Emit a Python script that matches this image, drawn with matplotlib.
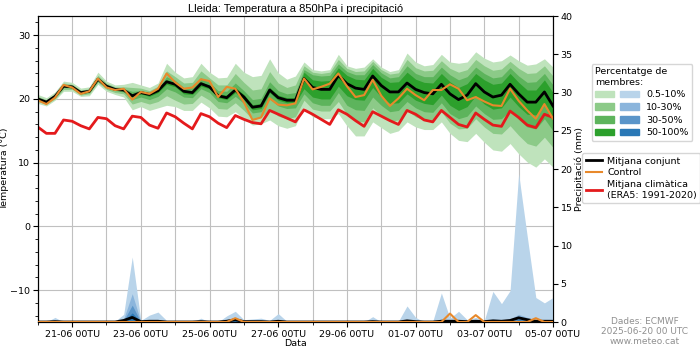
import numpy as np
import pandas as pd
import matplotlib
matplotlib.use("Agg")
import matplotlib.pyplot as plt
import matplotlib.dates as mdates
from matplotlib.patches import Patch
from matplotlib.lines import Line2D
from matplotlib.legend_handler import HandlerTuple

# 6-hourly steps from 2025-06-20 00 UTC to 2025-07-05 00 UTC
times = pd.date_range("2025-06-20 00:00", periods=61, freq="6h")

t_mean = [20.0, 19.5, 20.4, 22.0, 21.9, 21.0, 21.2, 23.1, 22.0, 21.5, 21.4, 20.5,
          21.0, 20.7, 21.3, 22.7, 22.3, 21.2, 21.0, 22.4, 21.9, 20.5, 20.2, 21.4,
          20.3, 18.7, 18.9, 21.4, 20.2, 19.8, 19.8, 23.2, 21.8, 21.5, 21.5, 23.7,
          22.4, 21.7, 21.5, 23.6, 22.1, 21.1, 21.1, 22.5, 21.5, 21.0, 20.8, 22.3,
          20.8, 19.9, 20.6, 22.4, 21.1, 20.3, 20.6, 22.3, 20.8, 19.5, 19.5, 21.1,
          18.9]
t_control = [19.8, 19.2, 20.2, 22.2, 21.8, 20.8, 21.2, 23.2, 21.8, 21.4, 21.6, 19.9,
             21.1, 20.8, 21.6, 24.0, 22.6, 21.6, 21.8, 23.1, 22.8, 20.3, 21.9, 21.6,
             19.5, 16.7, 17.1, 20.1, 19.1, 19.0, 19.3, 23.2, 21.5, 21.9, 22.4, 24.0,
             22.0, 20.3, 20.6, 23.0, 20.5, 18.9, 20.1, 21.6, 20.6, 19.8, 21.4, 21.4,
             22.3, 21.6, 19.8, 20.3, 19.6, 19.0, 18.9, 21.6, 19.7, 18.2, 16.9, 19.2,
             16.9]
t_clim = [15.6, 14.6, 14.6, 16.7, 16.5, 15.8, 15.3, 17.1, 16.9, 15.8, 15.3, 17.3,
          17.1, 15.9, 15.4, 17.8, 17.2, 16.2, 15.3, 17.7, 17.2, 16.2, 15.5, 17.4,
          16.8, 16.3, 16.1, 18.2, 17.6, 17.0, 16.4, 18.3, 17.6, 16.8, 16.0, 18.3,
          17.6, 16.6, 15.7, 18.0, 17.3, 16.6, 16.0, 18.2, 17.6, 16.7, 16.4, 18.2,
          17.1, 16.0, 15.6, 17.8, 16.8, 15.9, 15.7, 18.1, 17.1, 15.9, 15.5, 17.6,
          17.1]

# temperature percentile envelopes (outer -> inner)
t_hi1 = [20.7, 20.2, 21.1, 22.8, 22.6, 21.7, 21.9, 24.2, 22.8, 22.2, 22.3, 22.6,
         22.2, 21.8, 22.5, 25.6, 24.2, 23.3, 23.5, 25.6, 24.2, 23.3, 23.4, 25.6,
         24.2, 23.5, 23.7, 26.3, 24.1, 23.1, 23.6, 25.8, 24.6, 24.4, 24.6, 27.0,
         25.2, 24.8, 25.0, 26.3, 25.0, 24.3, 24.6, 27.2, 25.8, 25.2, 25.4, 27.0,
         25.8, 25.6, 25.8, 27.4, 26.4, 25.8, 26.0, 26.9, 26.0, 25.3, 25.5, 26.3,
         25.0]
t_lo1 = [19.3, 18.9, 19.8, 21.2, 21.2, 20.4, 20.5, 22.3, 21.2, 20.7, 20.3, 18.3,
         18.8, 18.2, 18.6, 19.0, 18.8, 18.2, 18.2, 19.5, 18.6, 17.3, 17.2, 18.0,
         16.9, 15.9, 16.1, 16.7, 15.8, 15.4, 15.8, 18.7, 17.2, 16.9, 16.9, 17.7,
         15.8, 14.2, 14.2, 16.4, 15.5, 14.6, 15.0, 16.4, 15.6, 15.2, 15.2, 16.4,
         14.6, 13.5, 13.3, 14.6, 13.2, 12.0, 11.8, 13.0, 11.4, 10.1, 9.3, 10.6,
         9.3]
t_hi2 = [20.4, 19.9, 20.8, 22.5, 22.3, 21.4, 21.6, 23.7, 22.5, 21.9, 21.9, 21.8,
         21.7, 21.3, 22.0, 24.4, 23.5, 22.5, 22.6, 24.4, 23.3, 22.2, 22.2, 24.0,
         22.6, 21.4, 21.6, 24.3, 22.5, 21.8, 22.2, 25.2, 24.2, 24.0, 24.2, 26.2,
         24.8, 24.3, 24.4, 25.9, 24.6, 23.9, 24.1, 26.2, 24.9, 24.4, 24.5, 26.0,
         24.8, 24.2, 24.6, 26.2, 25.2, 24.5, 24.7, 25.9, 24.8, 24.0, 24.1, 25.2,
         23.6]
t_lo2 = [19.6, 19.2, 20.0, 21.5, 21.5, 20.6, 20.8, 22.6, 21.5, 21.0, 20.8, 19.2,
         19.6, 19.2, 19.6, 20.5, 19.8, 19.2, 19.3, 20.6, 19.8, 18.5, 18.4, 19.4,
         18.2, 16.8, 17.1, 18.4, 17.3, 16.9, 17.2, 19.8, 18.4, 18.1, 18.1, 19.6,
         17.6, 16.5, 16.4, 18.6, 17.4, 16.5, 16.7, 18.2, 17.2, 16.7, 16.6, 18.0,
         16.2, 15.3, 15.4, 16.9, 15.6, 14.6, 14.5, 15.8, 14.3, 13.0, 12.6, 14.0,
         12.4]
t_hi3 = [20.2, 19.7, 20.6, 22.2, 22.1, 21.2, 21.4, 23.4, 22.2, 21.7, 21.6, 21.2,
         21.3, 21.0, 21.6, 23.5, 22.9, 21.8, 21.8, 23.3, 22.6, 21.3, 21.2, 22.5,
         21.3, 19.9, 20.1, 22.7, 21.3, 20.8, 21.0, 24.6, 23.8, 23.6, 23.7, 25.5,
         24.3, 23.8, 23.8, 25.4, 24.1, 23.3, 23.5, 25.2, 24.0, 23.5, 23.5, 25.0,
         23.8, 23.0, 23.5, 25.0, 24.0, 23.3, 23.5, 24.9, 23.6, 22.6, 22.7, 24.0,
         22.2]
t_lo3 = [19.8, 19.3, 20.2, 21.8, 21.7, 20.8, 21.0, 22.8, 21.8, 21.3, 21.1, 19.9,
         20.3, 19.9, 20.4, 21.6, 21.1, 20.3, 20.2, 21.6, 21.0, 19.6, 19.4, 20.4,
         19.3, 17.8, 18.0, 20.0, 18.9, 18.5, 18.6, 20.8, 19.4, 19.0, 19.0, 21.0,
         19.0, 18.3, 18.2, 20.3, 19.0, 18.0, 18.2, 19.6, 18.6, 18.0, 17.9, 19.4,
         17.7, 16.9, 17.3, 18.9, 17.7, 16.8, 16.9, 18.2, 16.8, 15.6, 15.3, 16.9,
         15.0]
t_hi4 = [20.1, 19.6, 20.5, 22.1, 22.0, 21.1, 21.3, 23.2, 22.1, 21.6, 21.5, 20.8,
         21.1, 20.8, 21.4, 23.0, 22.5, 21.4, 21.3, 22.7, 22.1, 20.8, 20.6, 21.8,
         20.7, 19.1, 19.3, 21.8, 20.6, 20.2, 20.2, 24.2, 23.0, 22.8, 22.9, 24.9,
         23.7, 23.1, 23.0, 24.8, 23.4, 22.6, 22.7, 24.2, 23.1, 22.6, 22.5, 24.0,
         22.7, 21.8, 22.4, 24.0, 23.0, 22.3, 22.5, 24.0, 22.6, 21.4, 21.4, 23.0,
         21.0]
t_lo4 = [19.9, 19.4, 20.3, 21.9, 21.8, 20.9, 21.1, 23.0, 21.9, 21.4, 21.3, 20.3,
         20.8, 20.4, 21.0, 22.3, 21.9, 20.8, 20.7, 22.0, 21.6, 20.2, 19.9, 21.0,
         19.9, 18.3, 18.5, 21.0, 19.8, 19.4, 19.4, 21.6, 20.3, 20.0, 20.0, 22.0,
         20.5, 19.9, 19.8, 21.8, 20.3, 19.3, 19.4, 20.8, 19.8, 19.3, 19.1, 20.6,
         19.0, 18.2, 18.8, 20.5, 19.2, 18.4, 18.6, 20.3, 18.8, 17.6, 17.5, 19.1,
         17.0]

# precipitation (mm): ensemble percentile tops (outer -> inner), mean, control
p_top1 = [0.0, 0.0, 0.6, 0.0, 0.0, 0.0, 0.0, 0.0, 0.0, 0.1, 1.0, 8.5,
          0.2, 0.9, 1.3, 0.2, 0.0, 0.0, 0.0, 0.5, 0.0, 0.0, 0.8, 1.4,
          0.3, 0.4, 0.5, 0.2, 1.1, 0.1, 0.0, 0.0, 0.0, 0.0, 0.0, 0.0,
          0.0, 0.0, 0.0, 0.7, 0.0, 0.0, 0.1, 2.1, 0.6, 0.0, 0.1, 3.8,
          0.5, 1.4, 0.3, 0.6, 0.2, 4.0, 2.4, 4.1, 19.4, 11.2, 3.2, 2.5,
          3.2]
p_top2 = [0.0, 0.0, 0.1, 0.0, 0.0, 0.0, 0.0, 0.0, 0.0, 0.0, 0.4, 3.7,
          0.05, 0.2, 0.3, 0.0, 0.0, 0.0, 0.0, 0.1, 0.0, 0.0, 0.2, 0.6,
          0.1, 0.1, 0.1, 0.0, 0.2, 0.0, 0.0, 0.0, 0.0, 0.0, 0.0, 0.0,
          0.0, 0.0, 0.0, 0.1, 0.0, 0.0, 0.0, 0.3, 0.1, 0.0, 0.0, 0.4,
          0.1, 0.2, 0.1, 0.1, 0.0, 0.4, 0.3, 0.4, 1.0, 0.6, 0.3, 0.3,
          0.3]
p_top3 = [0.0, 0.0, 0.0, 0.0, 0.0, 0.0, 0.0, 0.0, 0.0, 0.0, 0.2, 2.2,
          0.0, 0.1, 0.1, 0.0, 0.0, 0.0, 0.0, 0.0, 0.0, 0.0, 0.1, 0.4,
          0.0, 0.0, 0.0, 0.0, 0.1, 0.0, 0.0, 0.0, 0.0, 0.0, 0.0, 0.0,
          0.0, 0.0, 0.0, 0.0, 0.0, 0.0, 0.0, 0.1, 0.0, 0.0, 0.0, 0.2,
          0.0, 0.1, 0.0, 0.0, 0.0, 0.2, 0.1, 0.2, 0.6, 0.3, 0.1, 0.1,
          0.1]
p_top4 = [0.0, 0.0, 0.0, 0.0, 0.0, 0.0, 0.0, 0.0, 0.0, 0.0, 0.1, 1.2,
          0.0, 0.0, 0.0, 0.0, 0.0, 0.0, 0.0, 0.0, 0.0, 0.0, 0.0, 0.2,
          0.0, 0.0, 0.0, 0.0, 0.0, 0.0, 0.0, 0.0, 0.0, 0.0, 0.0, 0.0,
          0.0, 0.0, 0.0, 0.0, 0.0, 0.0, 0.0, 0.0, 0.0, 0.0, 0.0, 0.1,
          0.0, 0.0, 0.0, 0.0, 0.0, 0.1, 0.0, 0.1, 0.3, 0.2, 0.0, 0.0,
          0.0]
p_mean = [0.0, 0.0, 0.05, 0.0, 0.0, 0.0, 0.0, 0.0, 0.0, 0.0, 0.2, 0.6,
          0.05, 0.1, 0.1, 0.0, 0.0, 0.0, 0.0, 0.05, 0.0, 0.0, 0.1, 0.3,
          0.05, 0.05, 0.05, 0.0, 0.1, 0.0, 0.0, 0.0, 0.0, 0.0, 0.0, 0.0,
          0.0, 0.0, 0.0, 0.05, 0.0, 0.0, 0.0, 0.15, 0.05, 0.0, 0.0, 0.1,
          0.1, 0.1, 0.05, 0.1, 0.05, 0.15, 0.1, 0.2, 0.55, 0.3, 0.1, 0.1,
          0.1]
p_control = [0.0, 0.0, 0.0, 0.0, 0.0, 0.0, 0.0, 0.0, 0.0, 0.0, 0.0, 0.0,
             0.0, 0.0, 0.0, 0.0, 0.0, 0.0, 0.0, 0.0, 0.0, 0.0, 0.0, 0.5,
             0.0, 0.0, 0.0, 0.0, 0.0, 0.0, 0.0, 0.0, 0.0, 0.0, 0.0, 0.0,
             0.0, 0.0, 0.0, 0.0, 0.0, 0.0, 0.0, 0.0, 0.0, 0.0, 0.0, 0.0,
             1.1, 0.0, 0.0, 0.9, 0.0, 0.0, 0.0, 0.0, 0.0, 0.0, 0.5, 0.0,
             0.0]

greens = ["#bfe3bc", "#8cca88", "#5db45c", "#2ca02c"]
blues = ["#b9d4ea", "#8bb5dc", "#5a95c9", "#2a78b6"]
band_labels = ["0.5-10%", "10-30%", "30-50%", "50-100%"]

fs = 6.8

fig = plt.figure(figsize=(7, 3.5), dpi=100)
ax = fig.add_axes([0.054, 0.08, 0.736, 0.874])
ax2 = ax.twinx()

for lo, hi, c in zip([t_lo1, t_lo2, t_lo3, t_lo4], [t_hi1, t_hi2, t_hi3, t_hi4], greens):
    ax.fill_between(times, lo, hi, color=c, lw=0, zorder=2)
ax.plot(times, t_clim, color="#e41a1c", lw=2, zorder=3)
ax.plot(times, t_mean, color="black", lw=2, zorder=4)
ax.plot(times, t_control, color="#e8892b", lw=1.5, zorder=5)

for top, c in zip([p_top1, p_top2, p_top3, p_top4], blues):
    ax2.fill_between(times, 0, top, color=c, lw=0, zorder=2)
ax2.plot(times, p_mean, color="black", lw=2, zorder=4)
ax2.plot(times, p_control, color="#e8892b", lw=1.5, zorder=5)

ax.set_ylim(-15, 33)
ax.set_yticks([-10, 0, 10, 20, 30])
ax.yaxis.set_minor_locator(matplotlib.ticker.MultipleLocator(2))
ax2.set_ylim(0, 40)
ax2.set_yticks(range(0, 41, 5))
ax.set_xlim(times[0], times[-1])
major = pd.date_range("2025-06-21", "2025-07-05", freq="2D")
ax.set_xticks(major)
ax.xaxis.set_minor_locator(mdates.DayLocator())
ax.xaxis.set_major_formatter(mdates.DateFormatter("%d-%m %HTU"))
ax.grid(True, which="both", axis="x", color="#c0c0c0", lw=0.8)
ax.grid(True, which="major", axis="y", color="#c0c0c0", lw=0.8)
ax.set_axisbelow(True)
ax.tick_params(labelsize=fs, pad=2)
ax.tick_params(which="minor", length=2)
ax2.tick_params(labelsize=fs, pad=2)

ax.set_ylabel("Temperatura (°C)", fontsize=fs, labelpad=1)
ax2.set_ylabel("Precipitació (mm)", fontsize=fs, labelpad=1)
ax.set_xlabel("Data", fontsize=fs, labelpad=0)
ax.set_title("Lleida: Temperatura a 850hPa i precipitació", fontsize=8,
             family="Liberation Sans", pad=3)

handles1 = [(Patch(color=g), Patch(color=b)) for g, b in zip(greens, blues)]
leg1 = fig.legend(handles1, band_labels, title="Percentatge de\nmembres:",
                  handler_map={tuple: HandlerTuple(ndivide=None, pad=0.7)},
                  loc="upper left", bbox_to_anchor=(0.845, 0.818),
                  fontsize=fs, title_fontsize=fs, handlelength=4.6,
                  alignment="left", borderaxespad=0, labelspacing=0.38)

handles2 = [Line2D([], [], color="black", lw=2),
            Line2D([], [], color="#e8892b", lw=1.5),
            Line2D([], [], color="#e41a1c", lw=2)]
labels2 = ["Mitjana conjunt", "Control", "Mitjana climàtica\n(ERA5: 1991-2020)"]
fig.legend(handles2, labels2, loc="upper left", bbox_to_anchor=(0.832, 0.562),
           fontsize=fs, handlelength=1.7, handletextpad=0.6, borderpad=0.35,
           borderaxespad=0, labelspacing=0.3)

fig.text(0.921, 0.012, "Dades: ECMWF\n2025-06-20 00 UTC\nwww.meteo.cat",
         ha="center", va="bottom", fontsize=6.5, color="#909090",
         linespacing=1.15)

fig.savefig("out.png", dpi=100)
